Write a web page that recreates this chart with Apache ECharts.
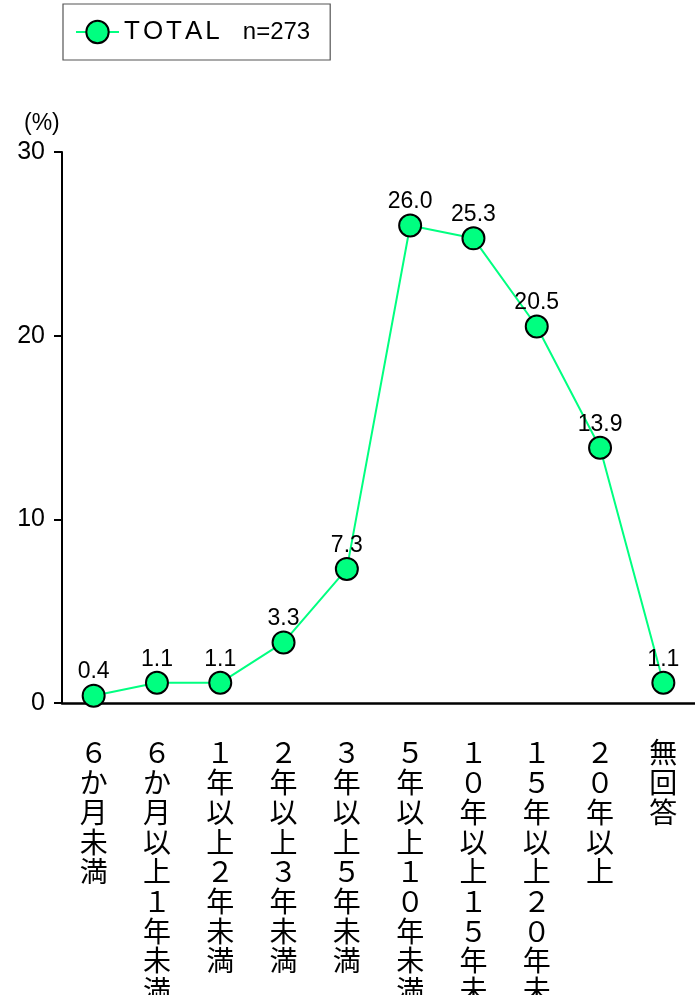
<!DOCTYPE html>
<html>
<head>
<meta charset="utf-8">
<script src="https://cdn.jsdelivr.net/npm/echarts@6/dist/echarts.min.js"></script>
<style>
html,body{margin:0;padding:0;background:#fff;}
#chart{width:695px;height:995px;}
</style>
</head>
<body>
<div id="chart"></div>
<script>
const categories = ['６か月未満','６か月以上１年未満','１年以上２年未満','２年以上３年未満','３年以上５年未満','５年以上１０年未満','１０年以上１５年未満','１５年以上２０年未満','２０年以上','無回答'];
const totalValues = [0.4, 1.1, 1.1, 3.3, 7.3, 26.0, 25.3, 20.5, 13.9, 1.1];
const seriesName = 'TOTAL';
const sampleSize = 'n=273';
const yTicks = [0, 10, 20, 30];
const unitLabel = '(%)';

const GREEN = '#00FF80';

// spaced-letter legend name via rich text
const measureCtx = document.createElement('canvas').getContext('2d');
measureCtx.font = '26px "Liberation Sans"';
const letterRich = {};
function spacedName(name) {
  return name.split('').map(function (ch, i) {
    const key = 'c' + i;
    letterRich[key] = { fontSize: 26, fontFamily: 'Liberation Sans', color: '#000', width: measureCtx.measureText(ch).width + 3 };
    return '{' + key + '|' + ch + '}';
  }).join('');
}
const legendText = spacedName(seriesName);
letterRich.b = { fontSize: 24, fontFamily: 'Liberation Sans', color: '#000', padding: [0, 0, 0, 20] };

const chart = echarts.init(document.getElementById('chart'));
chart.setOption({
  animation: false,
  backgroundColor: '#fff',
  textStyle: { fontFamily: 'Liberation Sans, Arial, sans-serif' },
  legend: {
    left: 63, top: 4,
    padding: [15, 20, 15, 12],
    borderColor: '#555', borderWidth: 1.2,
    itemWidth: 43, itemHeight: 28, itemGap: 6,
    formatter: function () { return legendText + '{b|' + sampleSize + '}'; },
    textStyle: { rich: letterRich },
    data: [seriesName]
  },
  graphic: [{
    type: 'text', left: 24, top: 112,
    style: { text: unitLabel, fontSize: 23, fontFamily: 'Liberation Sans', fill: '#000' }
  }],
  grid: { left: 62, right: 0, top: 152, bottom: 292, outerBoundsMode: 'none', containLabel: false },
  xAxis: {
    type: 'category',
    data: categories,
    boundaryGap: true,
    axisLine: { show: true, lineStyle: { color: '#000', width: 2.5 } },
    axisTick: { show: false },
    axisLabel: {
      interval: 0,
      margin: 35,
      fontSize: 28,
      lineHeight: 29.7,
      color: '#000',
      fontFamily: 'Noto Sans CJK JP',
      verticalAlign: 'top',
      formatter: function (v) { return v.split('').join('\n'); }
    }
  },
  yAxis: {
    type: 'value',
    min: yTicks[0], max: yTicks[yTicks.length - 1], interval: 10,
    axisLine: { show: true, lineStyle: { color: '#000', width: 2 } },
    axisTick: { show: true, length: 8, lineStyle: { color: '#000', width: 2 } },
    splitLine: { show: false },
    axisLabel: { fontSize: 25, color: '#000', margin: 17, fontFamily: 'Liberation Sans' }
  },
  series: [{
    name: seriesName,
    type: 'line',
    data: totalValues,
    symbol: 'circle',
    symbolSize: 22,
    lineStyle: { color: GREEN, width: 2 },
    itemStyle: { color: GREEN, borderColor: '#000', borderWidth: 2 },
    label: {
      show: true, position: 'top', distance: 0,
      fontSize: 23, color: '#000', fontFamily: 'Liberation Sans',
      formatter: function (p) { return p.value.toFixed(1); }
    },
    z: 3
  }]
});
</script>
</body>
</html>
